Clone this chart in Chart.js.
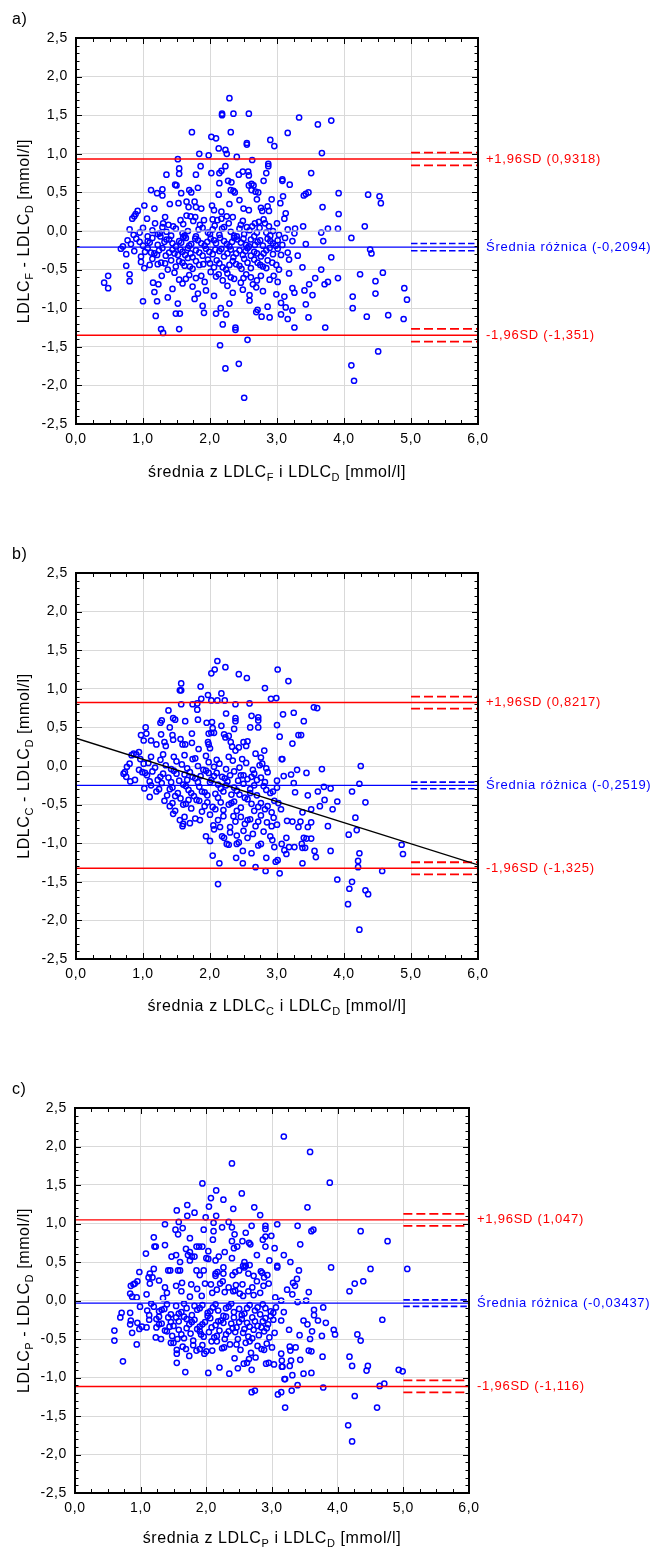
<!DOCTYPE html>
<html><head><meta charset="utf-8">
<script src="https://cdn.jsdelivr.net/npm/chart.js@4.4.0/dist/chart.umd.min.js"></script>
<style>
body{margin:0;background:#fff;width:656px;height:1549px;position:relative;overflow:hidden}
canvas{position:absolute;left:0}
</style></head>
<body>
<canvas id="ca" width="656" height="535" style="top:0px"></canvas>
<canvas id="cb" width="656" height="535" style="top:535px"></canvas>
<canvas id="cc" width="656" height="479" style="top:1070px"></canvas>
<script>
// ---------- tick labels ----------
const xTickValues = [0, 1, 2, 3, 4, 5, 6];
const yTickValues = [-2.5, -2, -1.5, -1, -0.5, 0, 0.5, 1, 1.5, 2, 2.5];

// ---------- statistics [ +1.96SD, mean, -1.96SD ] ----------
const statsA = [0.9318, -0.2094, -1.351];
const statsB = [0.8217, -0.2519, -1.325];
const statsC = [1.047, -0.03437, -1.116];
// confidence interval half widths [limits, mean]
const ciA = [0.083, 0.047];
const ciB = [0.078, 0.043];
const ciC = [0.078, 0.042];
// regression line panel b: y at x=0 and x=6
const regressionB = [0.36, -1.28];

// ---------- points [mean, difference] ----------
const pointsA = [
[2.29,1.72],[2.18,1.52],[2.18,1.50],[2.35,1.52],[2.58,1.52],[3.33,1.47],[3.61,1.38],[3.81,1.43],[1.73,1.28],[2.31,1.28],[3.16,1.27],[2.02,1.22],[2.09,1.20],[2.55,1.14],[2.55,1.12],[2.90,1.18],[2.96,1.10],[2.13,1.07],[2.23,1.05],[2.25,1.00],[1.84,1.00],[1.98,0.98],[2.40,0.96],[3.67,1.01],[1.52,0.93],[2.63,0.92],[2.87,0.87],[2.87,0.84],[1.54,0.81],[1.54,0.74],[1.86,0.84],[2.23,0.84],[1.35,0.73],[1.79,0.73],[2.02,0.75],[2.14,0.75],[2.17,0.78],[2.43,0.73],[2.49,0.77],[2.57,0.77],[2.58,0.72],[2.84,0.75],[2.80,0.65],[3.08,0.67],[3.08,0.65],[3.19,0.60],[3.51,0.75],[1.48,0.60],[1.50,0.59],[2.14,0.62],[2.27,0.65],[2.32,0.63],[2.58,0.59],[2.62,0.61],[2.65,0.59],[1.82,0.56],[1.69,0.53],[1.72,0.50],[1.12,0.53],[1.21,0.49],[1.29,0.54],[1.29,0.46],[1.57,0.49],[2.13,0.47],[2.31,0.53],[2.35,0.52],[2.37,0.50],[2.62,0.53],[2.68,0.51],[2.72,0.50],[3.09,0.45],[3.40,0.46],[3.43,0.48],[3.47,0.50],[3.92,0.49],[4.36,0.47],[4.53,0.45],[4.55,0.36],[1.53,0.36],[1.65,0.38],[1.77,0.38],[1.40,0.35],[2.44,0.40],[2.03,0.33],[2.29,0.35],[2.70,0.41],[2.92,0.41],[3.05,0.36],[1.02,0.33],[1.17,0.29],[1.68,0.31],[1.79,0.31],[1.87,0.29],[2.06,0.27],[2.17,0.25],[2.50,0.29],[2.58,0.27],[2.76,0.30],[2.78,0.26],[2.86,0.32],[2.88,0.26],[3.13,0.23],[3.11,0.16],[3.68,0.31],[3.92,0.22],[0.92,0.26],[0.89,0.22],[0.87,0.19],[0.84,0.16],[1.06,0.16],[1.33,0.18],[1.30,0.10],[1.56,0.14],[1.65,0.20],[1.71,0.19],[1.78,0.18],[1.75,0.13],[1.91,0.14],[2.04,0.15],[2.11,0.14],[2.17,0.16],[2.25,0.19],[2.34,0.18],[2.49,0.13],[2.67,0.10],[2.73,0.12],[2.82,0.10],[2.88,0.06],[3.39,0.06],[3.27,0.03],[3.66,-0.02],[3.76,0.03],[3.91,0.03],[3.69,-0.13],[4.31,0.06],[4.11,-0.09],[4.39,-0.24],[4.41,-0.29],
[0.80,0.02],[0.86,-0.05],[0.95,-0.02],[1.00,0.04],[1.07,-0.07],[1.14,0.01],[1.22,-0.04],[1.29,0.05],[1.35,-0.01],[1.42,-0.06],[1.49,0.03],[1.59,-0.03],[1.67,0.00],[1.79,-0.07],[1.89,0.04],[1.97,-0.02],[2.04,0.02],[2.14,-0.05],[2.21,0.05],[2.31,-0.01],[2.36,-0.06],[2.44,0.03],[2.51,-0.04],[2.59,0.01],[2.66,-0.07],[2.74,0.04],[2.84,-0.02],[2.94,0.00],[3.03,-0.05],[3.16,0.02],[3.26,-0.03],
[0.70,-0.20],[0.77,-0.12],[0.82,-0.17],[0.90,-0.10],[1.00,-0.19],[1.07,-0.13],[1.14,-0.09],[1.22,-0.18],[1.32,-0.14],[1.39,-0.11],[1.49,-0.20],[1.57,-0.15],[1.64,-0.09],[1.72,-0.17],[1.82,-0.12],[1.92,-0.19],[2.01,-0.10],[2.09,-0.16],[2.21,-0.13],[2.29,-0.20],[2.36,-0.09],[2.46,-0.15],[2.54,-0.18],[2.61,-0.11],[2.71,-0.14],[2.79,-0.19],[2.86,-0.10],[2.94,-0.16],[3.01,-0.12],[3.08,-0.18],[3.23,-0.13],[3.43,-0.17],
[0.67,-0.23],[0.75,-0.30],[0.87,-0.26],[0.97,-0.33],[1.07,-0.22],[1.17,-0.29],[1.24,-0.25],[1.34,-0.32],[1.44,-0.24],[1.52,-0.31],[1.59,-0.27],[1.67,-0.22],[1.74,-0.34],[1.84,-0.28],[1.94,-0.23],[2.04,-0.30],[2.14,-0.26],[2.21,-0.33],[2.31,-0.24],[2.39,-0.29],[2.49,-0.31],[2.56,-0.22],[2.66,-0.27],[2.76,-0.33],[2.84,-0.25],[2.94,-0.30],[3.01,-0.23],[3.16,-0.28],[3.31,-0.32],
[0.75,-0.45],[0.97,-0.40],[1.02,-0.48],[1.14,-0.36],[1.22,-0.43],[1.37,-0.50],[1.42,-0.38],[1.49,-0.46],[1.59,-0.41],[1.67,-0.35],[1.74,-0.49],[1.84,-0.44],[1.97,-0.37],[2.06,-0.47],[2.14,-0.42],[2.24,-0.50],[2.34,-0.39],[2.44,-0.45],[2.51,-0.36],[2.61,-0.48],[2.71,-0.41],[2.79,-0.46],[2.86,-0.38],[2.99,-0.44],[3.03,-0.50],[3.18,-0.37],[3.38,-0.47],[3.66,-0.50],[3.81,-0.34],
[0.42,-0.67],[0.48,-0.58],[0.80,-0.56],[0.80,-0.65],[1.15,-0.67],[1.23,-0.69],[1.47,-0.54],[1.54,-0.63],[1.59,-0.68],[1.69,-0.57],[1.79,-0.61],[1.92,-0.66],[2.01,-0.53],[2.09,-0.59],[2.19,-0.64],[2.26,-0.55],[2.36,-0.62],[2.46,-0.67],[2.54,-0.56],[2.61,-0.60],[2.64,-0.69],[2.76,-0.58],[2.89,-0.63],[3.01,-0.66],[3.18,-0.55],[3.48,-0.69],[3.57,-0.61],[3.71,-0.69],[3.76,-0.66],[3.91,-0.61],[4.24,-0.56],[4.47,-0.65],[4.58,-0.54],
[0.48,-0.74],[1.17,-0.79],[1.37,-0.86],[1.44,-0.75],[1.74,-0.72],[1.82,-0.81],[1.94,-0.77],[2.06,-0.84],[2.26,-0.71],[2.34,-0.80],[2.49,-0.76],[2.59,-0.83],[2.69,-0.73],[2.79,-0.78],[2.99,-0.82],[3.11,-0.85],[3.23,-0.74],[3.26,-0.80],[3.41,-0.77],[3.53,-0.83],[4.90,-0.74],[4.94,-0.89],[4.47,-0.81],[4.13,-0.85],
[1.00,-0.91],[1.21,-0.91],[1.52,-0.94],[1.77,-0.88],[1.89,-0.97],[2.16,-1.00],[2.29,-0.94],[2.59,-0.90],[2.71,-1.02],[2.86,-0.98],[3.06,-0.93],[3.13,-0.99],[3.23,-1.03],[3.43,-0.95],[4.13,-1.00],
[1.19,-1.10],[1.49,-1.07],[1.55,-1.07],[1.91,-1.06],[2.09,-1.07],[2.24,-1.08],[2.69,-1.05],[2.77,-1.11],[2.89,-1.12],[3.06,-1.08],[3.16,-1.14],[3.47,-1.12],[4.34,-1.11],[4.66,-1.09],[4.89,-1.14],
[1.27,-1.27],[1.30,-1.32],[1.54,-1.27],[2.19,-1.21],[2.38,-1.25],[2.38,-1.28],[3.26,-1.25],[3.72,-1.25],
[2.56,-1.41],[2.15,-1.48],[2.43,-1.72],[2.23,-1.78],[2.51,-2.16],[4.11,-1.74],[4.15,-1.94],[4.51,-1.56],
[1.25,-0.03],[1.45,0.06],[1.62,-0.06],[1.83,0.02],[2.00,-0.04],[2.18,0.03],[2.40,-0.07],[2.55,0.05],[2.70,-0.02],[2.90,-0.06],
[1.10,-0.15],[1.35,-0.11],[1.54,-0.13],[1.69,-0.19],[1.87,-0.16],[2.06,-0.12],[2.25,-0.17],[2.41,-0.11],[2.58,-0.20],[2.75,-0.12],[2.98,-0.19],
[1.12,-0.28],[1.29,-0.22],[1.47,-0.29],[1.63,-0.31],[1.79,-0.25],[1.99,-0.27],[2.17,-0.23],[2.35,-0.34],[2.53,-0.26],[2.70,-0.29],[2.89,-0.22],
[1.27,-0.41],[1.54,-0.39],[1.70,-0.46],[1.90,-0.43],[2.10,-0.38],[2.29,-0.44],[2.47,-0.49],[2.66,-0.37],[2.84,-0.48],
[1.18,0.10],[1.38,0.08],[1.60,0.09],[1.85,0.08],[2.07,0.07],[2.28,0.10],[2.46,0.08],[2.63,0.06],[2.80,0.15],[3.00,0.10],
[0.95,-0.14],[1.26,-0.07],[1.44,-0.16],[1.60,-0.08],[1.78,-0.10],[1.96,-0.14],[2.15,-0.09],[2.33,-0.14],[2.50,-0.10],[2.67,-0.18],[2.90,-0.13],[3.12,-0.09],
[1.03,-0.27],[1.21,-0.31],[1.39,-0.28],[1.56,-0.24],[1.71,-0.29],[1.89,-0.32],[2.08,-0.24],[2.26,-0.29],[2.44,-0.25],[2.61,-0.32],[2.80,-0.29],[3.06,-0.31],
[1.10,-0.44],[1.33,-0.42],[1.62,-0.45],[1.79,-0.39],[2.00,-0.42],[2.19,-0.47],[2.39,-0.43],[2.56,-0.41],[2.75,-0.44],[2.93,-0.41],
[1.28,-0.58],[1.64,-0.62],[1.87,-0.58],[2.13,-0.56],[2.31,-0.60],[2.50,-0.61],[2.70,-0.64],[2.95,-0.58]
];

const pointsB = [
[2.11,1.36],[2.23,1.28],[2.07,1.25],[2.02,1.20],[2.43,1.19],[2.55,1.14],[3.01,1.25],[3.17,1.10],[1.57,1.07],[1.55,0.98],[1.57,0.98],[1.86,1.03],[2.82,1.01],[1.97,0.92],[2.17,0.94],[1.74,0.80],[1.81,0.81],[1.87,0.87],[1.57,0.80],[2.02,0.85],[2.11,0.85],[2.22,0.85],[2.59,0.81],[2.91,0.87],[2.99,0.88],[2.38,0.80],[3.55,0.76],[3.60,0.75],[1.81,0.73],[1.38,0.72],[1.45,0.62],[1.48,0.60],[1.63,0.58],[1.82,0.60],[1.95,0.56],[2.03,0.57],[2.04,0.49],[2.02,0.43],[2.24,0.68],[2.38,0.62],[2.38,0.58],[2.17,0.52],[2.36,0.48],[2.62,0.65],[2.72,0.63],[2.72,0.59],[2.72,0.50],[2.60,0.50],[3.09,0.67],[3.25,0.69],[3.40,0.58],[3.00,0.53],[3.04,0.38],[3.32,0.40],[3.36,0.40],[3.23,0.29],[1.26,0.56],[1.28,0.59],[1.40,0.50],[1.44,0.40],[1.27,0.41],[1.04,0.50],[1.05,0.42],[0.97,0.40],[1.01,0.33],[1.12,0.33],[1.20,0.28],[1.32,0.31],[1.34,0.26],[1.45,0.34],[1.56,0.35],[1.59,0.28],[1.63,0.28],[1.73,0.42],[1.73,0.30],[1.83,0.22],[1.97,0.31],[1.98,0.28],[2.00,0.23],[1.98,0.42],[2.06,0.43],[2.21,0.41],[2.23,0.37],[2.28,0.39],[2.31,0.31],[2.33,0.25],[2.38,0.20],[2.50,0.31],[2.54,0.26],[2.56,0.32],[2.43,0.24],[2.68,0.16],[2.76,0.11],[2.81,0.20],[2.78,0.03],[3.08,0.09],[3.07,0.09],
[0.86,0.16],[0.90,0.15],[0.94,0.18],[0.83,0.14],[0.80,0.03],[0.76,-0.01],[0.73,-0.08],[0.71,-0.10],[0.75,-0.14],[0.81,-0.20],[0.88,-0.18],[0.96,0.09],[1.01,0.03],[0.94,-0.05],[0.99,-0.08],[1.03,-0.09],[1.02,-0.29],[1.10,-0.40],
[3.67,-0.04],[3.44,-0.09],[3.30,-0.05],[3.21,-0.11],[3.25,-0.22],[4.25,0.00],[4.23,-0.23],[4.32,-0.47],[4.12,-0.33],[3.70,-0.27],[3.80,-0.29],[3.46,-0.38],[3.61,-0.33],[3.27,-0.34],[3.71,-0.44],[3.90,-0.46],[3.83,-0.56],[3.51,-0.56],[3.64,-0.52],[3.38,-0.60],[4.17,-0.67],[4.07,-0.89],[4.19,-0.83],[3.76,-0.78],[3.80,-1.10],[4.86,-1.02],[4.88,-1.14],[4.23,-1.13],[4.21,-1.23],[4.21,-1.31],[4.57,-1.36],[3.90,-1.47],[4.12,-1.50],[4.08,-1.59],[4.32,-1.61],[4.36,-1.66],[4.06,-1.79],[4.23,-2.12],
[3.15,-0.71],[3.23,-0.72],[3.35,-0.72],[3.32,-0.79],[3.46,-0.79],[3.51,-0.73],[3.40,-0.93],[3.44,-0.94],[3.51,-0.94],[3.14,-0.93],[3.38,-1.06],[3.42,-1.06],[3.56,-1.10],[3.58,-1.18],[3.38,-1.26],[2.98,-1.24],[3.01,-1.22],[3.04,-1.39],[2.83,-1.36],[2.68,-1.31],[2.84,-1.19],[2.49,-1.26],[2.39,-1.19],[2.14,-1.26],[2.12,-1.53],[2.04,-1.16],[1.94,-0.91],[2.00,-0.97],[1.59,-0.78],[2.18,-0.91],[2.21,-0.93],[2.25,-1.01],[2.28,-1.02],[2.40,-1.01],[2.43,-0.99],[2.49,-1.10],[2.62,-1.13],[2.72,-1.03],[2.76,-1.01],[2.93,-0.96],[2.96,-1.05],[3.07,-1.01],[3.11,-1.09],[3.14,-1.14],[3.18,-1.05],[3.26,-1.05],[3.37,-1.01],
[1.08,0.04],[1.18,-0.02],[1.26,0.08],[1.34,0.01],[1.42,-0.04],[1.50,0.06],[1.58,0.02],[1.66,-0.03],[1.74,0.09],[1.82,0.00],[1.90,-0.05],[1.98,0.05],[2.06,-0.01],[2.14,0.03],[2.24,-0.04],[2.34,0.07],[2.44,-0.02],[2.54,0.04],[2.64,-0.05],[2.74,0.01],[2.84,-0.03],
[1.06,-0.12],[1.14,-0.07],[1.22,-0.18],[1.30,-0.10],[1.38,-0.15],[1.46,-0.06],[1.54,-0.19],[1.62,-0.11],[1.70,-0.08],[1.78,-0.16],[1.86,-0.13],[1.94,-0.06],[2.02,-0.18],[2.10,-0.09],[2.18,-0.14],[2.26,-0.20],[2.36,-0.07],[2.46,-0.12],[2.56,-0.17],[2.66,-0.10],[2.76,-0.15],[2.86,-0.08],[3.00,-0.19],[3.10,-0.13],
[1.12,-0.25],[1.20,-0.33],[1.28,-0.22],[1.36,-0.38],[1.44,-0.28],[1.52,-0.35],[1.60,-0.24],[1.68,-0.31],[1.76,-0.39],[1.84,-0.27],[1.92,-0.34],[2.00,-0.21],[2.08,-0.36],[2.16,-0.29],[2.24,-0.25],[2.32,-0.37],[2.40,-0.32],[2.50,-0.23],[2.60,-0.30],[2.70,-0.38],[2.80,-0.26],[2.90,-0.35],[3.00,-0.28],
[1.32,-0.45],[1.40,-0.52],[1.48,-0.58],[1.56,-0.42],[1.64,-0.49],[1.72,-0.55],[1.80,-0.44],[1.88,-0.59],[1.96,-0.47],[2.04,-0.53],[2.12,-0.41],[2.20,-0.57],[2.28,-0.50],[2.36,-0.46],[2.46,-0.54],[2.56,-0.43],[2.66,-0.58],[2.76,-0.48],[2.86,-0.52],[2.96,-0.45],[3.06,-0.56],
[1.45,-0.62],[1.55,-0.70],[1.62,-0.66],[1.70,-0.74],[1.78,-0.68],[2.00,-0.63],[2.05,-0.77],[2.12,-0.70],[2.20,-0.65],[2.30,-0.79],[2.38,-0.72],[2.46,-0.66],[2.52,-0.75],[2.60,-0.69],[2.68,-0.78],[2.76,-0.64],[2.85,-0.73],[2.95,-0.67],[3.00,-0.76],
[2.06,-0.82],[2.30,-0.86],[2.40,-0.90],[2.50,-0.84],[2.56,-0.93],[2.64,-0.88],[2.80,-0.85],[2.90,-0.91],
[1.50,-0.10],[1.74,-0.14],[1.98,-0.09],[2.22,-0.16],[2.50,-0.12],[2.70,-0.18],
[1.40,-0.30],[1.64,-0.26],[1.88,-0.33],[2.12,-0.24],[2.36,-0.28],[2.60,-0.35],[2.84,-0.31],
[1.60,-0.50],[1.84,-0.45],[2.08,-0.56],[2.32,-0.48],[2.52,-0.41],[2.72,-0.53],[2.92,-0.60],
[1.12,0.12],[1.30,0.15],[1.46,0.12],[1.62,0.14],[1.78,0.10],[1.94,0.13],[2.10,0.08],[2.28,0.12],[2.48,0.09],
[1.10,-0.20],[1.26,-0.14],[1.42,-0.21],[1.66,-0.18],[1.82,-0.21],[2.06,-0.13],[2.30,-0.12],[2.42,-0.19],[2.62,-0.14],[2.82,-0.21],
[1.24,-0.30],[1.48,-0.39],[1.72,-0.35],[1.96,-0.38],[2.20,-0.33],[2.44,-0.37],[2.66,-0.25],[2.94,-0.33],
[1.44,-0.48],[1.68,-0.44],[1.92,-0.52],[2.16,-0.47],[2.40,-0.58],[2.62,-0.49],[2.82,-0.56],[3.02,-0.48],
[1.60,-0.75],[1.85,-0.70],[2.15,-0.79],[2.35,-0.65],[2.56,-0.70],[2.72,-0.72],[2.92,-0.78]
];

const pointsC = [
[3.18,2.13],[3.58,1.93],[2.39,1.78],[3.88,1.53],[1.94,1.52],[2.15,1.43],[2.54,1.39],[2.07,1.33],[2.26,1.31],[1.71,1.24],[2.04,1.22],[1.55,1.17],[2.41,1.19],[2.73,1.21],[3.54,1.21],[1.82,1.14],[1.71,1.10],[2.15,1.10],[2.82,1.11],[1.99,1.08],[1.58,1.02],[1.37,0.99],[2.34,1.02],[2.11,1.01],[2.24,0.95],[2.39,0.95],[2.69,0.97],[2.90,0.97],[2.90,0.93],[3.08,0.99],[3.39,0.97],[4.35,0.90],[3.60,0.90],[3.63,0.92],[1.53,0.92],[1.64,0.94],[1.96,0.92],[2.11,0.90],[1.57,0.86],[2.43,0.86],[2.60,0.88],[2.99,0.84],[2.90,0.83],[2.86,0.79],[1.20,0.82],[1.75,0.81],[2.10,0.79],[2.39,0.77],[2.55,0.77],[2.65,0.75],[2.67,0.73],[3.43,0.73],[4.76,0.77],[1.37,0.72],[1.21,0.70],[1.23,0.70],[1.85,0.70],[1.89,0.70],[1.94,0.70],[1.69,0.67],[1.75,0.63],[2.03,0.64],[2.28,0.63],[2.42,0.68],[2.47,0.70],[2.90,0.70],[3.04,0.68],[1.08,0.61],[2.77,0.59],[3.18,0.59],[1.47,0.57],[1.54,0.59],[1.72,0.59],[1.78,0.57],[1.82,0.57],[2.00,0.55],[2.03,0.54],[2.19,0.57],[2.39,0.55],[1.60,0.50],[1.75,0.52],[2.14,0.52],[2.96,0.52],[2.58,0.50],[2.56,0.45],[2.58,0.43],[2.60,0.45],[3.28,0.50],[3.90,0.43],[4.50,0.41],[5.06,0.41],[3.08,0.43],[3.08,0.45],[2.26,0.43],[1.96,0.39],[1.42,0.39],[1.45,0.39],[1.57,0.39],[1.60,0.39],[1.85,0.39],[2.44,0.37],[2.50,0.39],[2.66,0.46],[3.41,0.39],[2.83,0.38],[2.64,0.35],[0.98,0.37],[1.20,0.41],[1.14,0.35],[2.17,0.37],[2.14,0.32],[2.14,0.35],[2.26,0.35],[2.40,0.33],[2.72,0.32],[2.85,0.36],[2.88,0.30],[2.93,0.33],[2.77,0.25],[3.38,0.28],[1.90,0.33],[1.12,0.30],[1.18,0.30],[1.28,0.26],[4.26,0.22],[4.39,0.25],[0.95,0.25],[0.91,0.22],[0.89,0.21],[0.85,0.19],[1.14,0.22],[1.37,0.17],[1.54,0.19],[1.63,0.23],[1.77,0.21],[1.98,0.22],[2.21,0.22],[2.25,0.25],[2.07,0.21],[2.34,0.17],[2.45,0.20],[2.55,0.21],[2.70,0.17],[2.87,0.19],[2.95,0.22],[3.32,0.23],[3.35,0.19],[3.23,0.14],[3.56,0.11],[4.18,0.12],[0.84,0.09],[0.87,0.05],[0.94,0.04],[1.09,0.08],[1.34,0.03],[1.75,0.05],[1.93,0.06],[2.09,0.10],[2.28,0.11],[2.41,0.12],[2.51,0.09],[2.56,0.06],[2.72,0.07],[3.05,0.04],[3.14,0.00],[3.31,0.08],[3.52,0.00],[3.39,-0.02],
[0.71,-0.16],[0.69,-0.22],[0.60,-0.39],[0.60,-0.52],[0.73,-0.79],[0.84,-0.16],[0.85,-0.26],[0.84,-0.31],[0.87,-0.42],[0.94,-0.57],[0.95,-0.29],[0.98,-0.37],[1.02,-0.34],[1.09,-0.35],[0.99,-0.08],[1.10,-0.13],[1.13,-0.19],[1.13,-0.25],[1.24,-0.35],[1.28,-0.31],[1.23,-0.48],[1.31,-0.50],[1.37,-0.39],[1.46,-0.55],[1.55,-0.64],[1.55,-0.69],[1.55,-0.81],[1.68,-0.93],[1.69,-0.63],[1.74,-0.72],[1.80,-0.52],[1.85,-0.65],[1.90,-0.63],[1.97,-0.69],[2.03,-0.94],[2.09,-0.65],[2.20,-0.87],[2.27,-0.61],[2.35,-0.95],[2.43,-0.75],[2.48,-0.88],[2.57,-0.82],[2.62,-0.81],[2.65,-0.76],[2.69,-0.90],[2.69,-1.19],[2.74,-1.17],[2.75,-0.74],[2.91,-0.82],[2.95,-0.81],[3.03,-0.83],[3.14,-0.69],[3.15,-0.86],[3.20,-1.02],[3.19,-1.02],[3.27,-0.85],[3.31,-0.97],[3.39,-1.10],[3.48,-0.95],[3.60,-0.94],[3.43,-0.77],[3.56,-0.65],[3.60,-0.66],[3.77,-0.73],[3.09,-1.22],[3.14,-1.19],[3.30,-1.17],[3.20,-1.39],[3.78,-1.13],[4.18,-0.73],[4.22,-0.85],[4.44,-0.91],[4.46,-0.85],[4.26,-1.24],[4.64,-1.11],[4.71,-1.08],[4.60,-1.39],[4.16,-1.62],[4.22,-1.83],[4.93,-0.90],[4.99,-0.92],[4.68,-0.25],[4.30,-0.44],[4.35,-0.52],[3.94,-0.38],[3.96,-0.44],[3.76,-0.46],[3.70,-0.26],[3.82,-0.29],[3.64,-0.12],[3.78,-0.09],[3.64,-0.19],[3.48,-0.26],[3.54,-0.31],[3.61,-0.40],[3.58,-0.50],[3.42,-0.45],[3.26,-0.38],[3.14,-0.26],[3.18,-0.15],[3.36,-0.61],[3.27,-0.60],[3.28,-0.65],[3.15,-0.78],[3.16,-0.86],[3.29,-0.78],
[1.20,-0.08],[1.28,-0.14],[1.36,-0.11],[1.46,-0.18],[1.54,-0.07],[1.62,-0.15],[1.70,-0.10],[1.78,-0.19],[1.86,-0.12],[1.94,-0.06],[2.02,-0.16],[2.10,-0.09],[2.18,-0.13],[2.26,-0.20],[2.34,-0.08],[2.42,-0.15],[2.50,-0.11],[2.58,-0.17],[2.66,-0.06],[2.74,-0.13],[2.82,-0.18],[2.90,-0.10],[2.98,-0.14],[3.06,-0.09],
[1.24,-0.24],[1.32,-0.30],[1.42,-0.22],[1.50,-0.33],[1.58,-0.27],[1.66,-0.21],[1.74,-0.31],[1.82,-0.25],[1.90,-0.34],[1.98,-0.28],[2.06,-0.23],[2.14,-0.32],[2.22,-0.26],[2.30,-0.21],[2.38,-0.30],[2.46,-0.35],[2.54,-0.24],[2.62,-0.29],[2.70,-0.22],[2.78,-0.33],[2.86,-0.27],[2.94,-0.31],[3.02,-0.25],
[1.40,-0.40],[1.48,-0.46],[1.58,-0.38],[1.66,-0.49],[1.76,-0.43],[1.86,-0.37],[1.96,-0.47],[2.04,-0.41],[2.12,-0.48],[2.20,-0.39],[2.30,-0.44],[2.40,-0.36],[2.48,-0.50],[2.56,-0.42],[2.64,-0.47],[2.72,-0.38],[2.80,-0.45],[2.88,-0.40],[2.96,-0.48],
[1.50,-0.55],[1.64,-0.60],[1.94,-0.58],[2.00,-0.66],[2.16,-0.53],[2.24,-0.62],[2.36,-0.57],[2.52,-0.64],[2.60,-0.55],[2.68,-0.68],[2.78,-0.59],[2.84,-0.63],[2.92,-0.56],[3.00,-0.61],
[1.32,-0.12],[1.58,-0.17],[1.82,-0.07],[2.06,-0.14],[2.30,-0.10],[2.54,-0.19],[2.78,-0.09],[3.02,-0.16],
[1.46,-0.28],[1.70,-0.24],[1.94,-0.31],[2.18,-0.27],[2.42,-0.22],[2.66,-0.34],[2.90,-0.23],
[1.62,-0.44],[1.90,-0.40],[2.16,-0.46],[2.44,-0.41],[2.70,-0.49],[2.92,-0.36],
[1.16,-0.04],[1.40,-0.05],[1.66,-0.04],[1.90,-0.10],[2.14,-0.05],[2.38,-0.04],[2.62,-0.10],[2.86,-0.05],
[1.28,-0.21],[1.54,-0.22],[1.78,-0.28],[2.02,-0.20],[2.26,-0.29],[2.50,-0.28],[2.74,-0.27],[2.98,-0.20],
[1.44,-0.34],[1.70,-0.36],[1.92,-0.44],[2.08,-0.35],[2.34,-0.40],[2.58,-0.37],[2.84,-0.35],[3.04,-0.42],
[1.56,-0.50],[1.80,-0.58],[2.08,-0.53],[2.28,-0.50],[2.46,-0.57],[2.66,-0.53],[2.88,-0.64],
[1.40,0.10],[1.62,0.12],[1.86,0.15],[2.16,0.14],[2.44,0.13],[2.64,0.12],[2.82,0.10]
];

// ---------- styling ----------
const RED = '#ff0000', BLUE = '#0000ff', GRID = '#d9d9d9';
const FONT = '"Liberation Sans", Arial, Helvetica, sans-serif';
const X_MINOR = 0.25, Y_MINOR = 0.1;

const fmtNum = v => String(v).replace('.', ',');
const fmtTick = v => v.toFixed(1).replace('.', ',');

function richWidth(ctx, segs) {
  let w = 0;
  for (const s of segs) { ctx.font = (s.sub ? '11px ' : '16px ') + FONT; w += ctx.measureText(s.t).width; }
  return w;
}
function drawRich(ctx, segs, x, y) {
  const w = richWidth(ctx, segs);
  let cx = x - w / 2;
  ctx.textAlign = 'left';
  ctx.textBaseline = 'alphabetic';
  for (const s of segs) {
    ctx.font = (s.sub ? '11px ' : '16px ') + FONT;
    ctx.fillText(s.t, cx, y + (s.sub ? 4 : 0));
    cx += ctx.measureText(s.t).width;
  }
}

const panels = [
  {id:'ca', letter:'a)', pts:pointsA, stats:statsA, ci:ciA, sub:'F', reg:null, right:478, left:76, bottom:424, titleY:477, zero:true},
  {id:'cb', letter:'b)', pts:pointsB, stats:statsB, ci:ciB, sub:'C', reg:regressionB, right:478, left:76, bottom:424, titleY:476, zero:false},
  {id:'cc', letter:'c)', pts:pointsC, stats:statsC, ci:ciC, sub:'P', reg:null, right:469, left:75, bottom:423, titleY:473, zero:true}
];

function seg(y0, y1, x0, x1, color, width, dash, order) {
  return {type:'scatter', data:[{x:x0,y:y0},{x:x1,y:y1}], showLine:true, pointRadius:0,
    borderColor:color, borderWidth:width, borderDash:dash, fill:false, order:order};
}

for (const p of panels) {
  const canvas = document.getElementById(p.id);
  const H = canvas.height;
  const [up, mean, lo] = p.stats;
  const [ciL, ciM] = p.ci;
  const ds = [];
  ds.push(seg(up, up, 0, 6, RED, 1.4, [], 1));
  ds.push(seg(lo, lo, 0, 6, RED, 1.4, [], 1));
  ds.push(seg(mean, mean, 0, 6, BLUE, 1.3, [], 1));
  ds.push(seg(up+ciL, up+ciL, 5, 6, RED, 1.8, [9,4], 1));
  ds.push(seg(up-ciL, up-ciL, 5, 6, RED, 1.8, [9,4], 1));
  ds.push(seg(lo+ciL, lo+ciL, 5, 6, RED, 1.8, [9,4], 1));
  ds.push(seg(lo-ciL, lo-ciL, 5, 6, RED, 1.8, [9,4], 1));
  ds.push(seg(mean+ciM, mean+ciM, 5, 6, BLUE, 1.6, [6.5,3], 1));
  ds.push(seg(mean-ciM, mean-ciM, 5, 6, BLUE, 1.6, [6.5,3], 1));
  if (p.reg) ds.push(seg(p.reg[0], p.reg[1], 0, 6, '#000', 1.3, [], 0));
  if (p.zero) ds.push(seg(0, 0, 0, 6, '#e2e2e2', 1.2, [], 5));
  ds.push({type:'scatter', data:p.pts.map(([x,y]) => ({x, y})), pointRadius:2.6, pointBorderWidth:1.5,
    pointBorderColor:BLUE, pointBackgroundColor:'rgba(0,0,0,0)', borderColor:BLUE, backgroundColor:'rgba(0,0,0,0)', order:10});

  const deco = {
    id:'deco',
    beforeDraw(chart) { chart.ctx.letterSpacing = '0.6px'; },
    afterDatasetsDraw(chart) {
      const ctx = chart.ctx, a = chart.chartArea, xs = chart.scales.x, ys = chart.scales.y;
      ctx.save();
      ctx.strokeStyle = '#000';
      ctx.lineWidth = 1;
      ctx.beginPath();
      for (let i = 0; i <= 24; i++) {
        const px = Math.round(xs.getPixelForValue(i * X_MINOR)) + 0.5;
        const L = (i % 4 === 0) ? 6 : 4;
        ctx.moveTo(px, a.bottom); ctx.lineTo(px, a.bottom - L);
        ctx.moveTo(px, a.top); ctx.lineTo(px, a.top + L);
      }
      for (let i = 0; i <= 50; i++) {
        const py = Math.round(ys.getPixelForValue(-2.5 + i * Y_MINOR)) + 0.5;
        const L = (i % 5 === 0) ? 6 : 3.5;
        ctx.moveTo(a.left, py); ctx.lineTo(a.left + L, py);
        ctx.moveTo(a.right, py); ctx.lineTo(a.right - L, py);
      }
      ctx.stroke();
      ctx.lineWidth = 2;
      ctx.strokeRect(a.left, a.top, a.right - a.left, a.bottom - a.top);
      ctx.restore();
    },
    afterDraw(chart) {
      const ctx = chart.ctx, a = chart.chartArea, ys = chart.scales.y;
      ctx.save();
      ctx.fillStyle = '#000';
      ctx.letterSpacing = '0.6px';
      ctx.font = '16px ' + FONT; ctx.textAlign = 'left'; ctx.textBaseline = 'middle';
      ctx.fillText(p.letter, 12, 20);
      drawRich(ctx, [{t:'średnia z LDLC'},{t:p.sub,sub:true},{t:' i LDLC'},{t:'D',sub:true},{t:' [mmol/l]'}], (a.left + a.right) / 2, p.titleY);
      ctx.save();
      ctx.translate(29, (a.top + a.bottom) / 2);
      ctx.rotate(-Math.PI / 2);
      drawRich(ctx, [{t:'LDLC'},{t:p.sub,sub:true},{t:' - LDLC'},{t:'D',sub:true},{t:' [mmol/l]'}], 0, 0);
      ctx.restore();
      ctx.letterSpacing = '0.75px';
      ctx.font = '13px ' + FONT; ctx.textAlign = 'left'; ctx.textBaseline = 'middle';
      const lx = a.right + 8;
      ctx.fillStyle = RED;
      ctx.fillText('+1,96SD (' + fmtNum(up) + ')', lx, ys.getPixelForValue(up));
      ctx.fillText('-1,96SD (' + fmtNum(lo) + ')', lx, ys.getPixelForValue(lo));
      ctx.fillStyle = BLUE;
      ctx.fillText('Średnia różnica (' + fmtNum(mean) + ')', lx, ys.getPixelForValue(mean));
      ctx.restore();
    }
  };

  new Chart(canvas, {
    type:'scatter',
    data:{datasets:ds},
    options:{
      responsive:false, animation:false, devicePixelRatio:1,
      layout:{padding:{left:0, right:656 - p.right, top:38, bottom:H - p.bottom - 30}},
      plugins:{legend:{display:false}, tooltip:{enabled:false}},
      elements:{line:{tension:0}},
      scales:{
        x:{type:'linear', min:0, max:6,
          afterFit(s){ s.height = 30; },
          afterBuildTicks(s){ s.ticks = xTickValues.map(v => ({value:v})); },
          ticks:{padding:7, color:'#000', font:{size:14, family:FONT}, callback:v => fmtTick(v), maxRotation:0, autoSkip:false},
          grid:{color:GRID, lineWidth:1, drawTicks:false},
          border:{display:false}},
        y:{type:'linear', min:-2.5, max:2.5,
          afterFit(s){ s.width = p.left; },
          afterBuildTicks(s){ s.ticks = yTickValues.map(v => ({value:v})); },
          ticks:{padding:8, color:'#000', font:{size:14, family:FONT}, callback:v => fmtTick(v), autoSkip:false},
          grid:{color:GRID, lineWidth:1, drawTicks:false},
          border:{display:false}}
      }
    },
    plugins:[deco]
  });
}
</script>
</body></html>
